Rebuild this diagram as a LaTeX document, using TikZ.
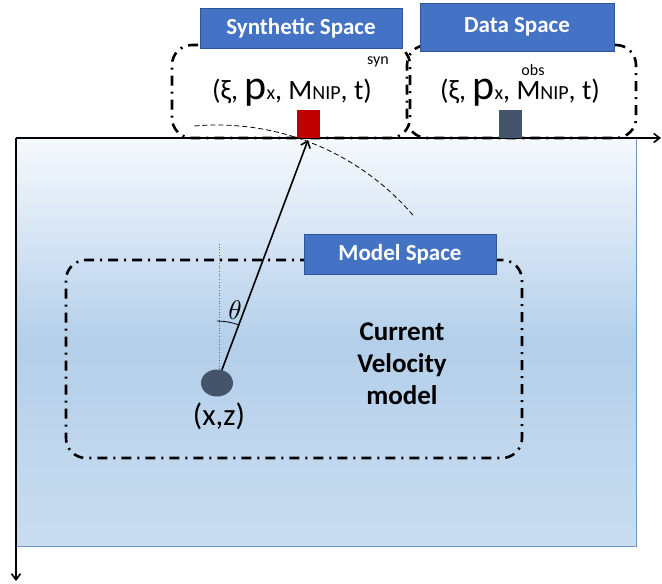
\documentclass[tikz,border=0pt]{standalone}
\usepackage{fontspec}
\setmainfont{Carlito}
\usetikzlibrary{arrows.meta,shapes.geometric}
\definecolor{boxblue}{HTML}{4472C4}
\definecolor{boxedge}{HTML}{2F5597}
\definecolor{slate}{HTML}{44546A}
\definecolor{redbar}{HTML}{C00000}
\definecolor{bgtop}{HTML}{F6F9FD}
\definecolor{bgmid}{HTML}{B4CFEA}
\definecolor{bgbot}{HTML}{CADDF0}
\definecolor{bgedge}{HTML}{6F93C6}
\begin{document}
\begin{tikzpicture}[x=1pt,y=-1pt,
  spacelabel/.style={fill=boxblue,draw=boxedge,line width=0.6pt,text=white,
    font=\fontsize{23}{26}\selectfont\bfseries,inner sep=0pt},
  region/.style={draw=black,line width=2.6pt,rounded corners=20pt,
    dash pattern=on 10pt off 6pt on 2pt off 6pt,inner sep=0pt},
  tuple/.style={font=\fontsize{28}{30}\selectfont,inner sep=0pt},
  bar/.style={minimum width=23pt,minimum height=28pt,inner sep=0pt},
  axis/.style={line width=1.6pt,-{Straight Barb[length=6pt,width=9pt]}},
]
\useasboundingbox (0,0) rectangle (662,584);
% background medium
\path[top color=bgtop,bottom color=bgbot,middle color=bgmid] (16,138) rectangle (636,546);
\draw[bgedge,line width=0.8pt] (16,138) rectangle (636,546);
% axes
\coordinate (O) at (16,138);
\coordinate (xend) at (661,138);
\coordinate (zend) at (16,581);
\draw[axis] (O) -- (xend);
\draw[axis] (O) -- (zend);
% regions
\node[region,minimum width=238pt,minimum height=93pt] (synreg) at (291,91.5) {};
\node[region,minimum width=229pt,minimum height=93pt] (datreg) at (521.5,91.5) {};
\node[region,minimum width=456pt,minimum height=198pt] (modreg) at (294,359) {};
% labels
\node[spacelabel,minimum width=202pt,minimum height=40pt] (synlab) at (301,28) {Synthetic Space};
\node[spacelabel,minimum width=194pt,minimum height=48pt] (datlab) at (517,27) {Data Space};
\node[spacelabel,minimum width=192pt,minimum height=40pt] (modlab) at (400,254) {Model Space};
% bars
\node[bar,fill=redbar] (synbar) at (308.5,124) {};
\node[bar,fill=slate] (datbar) at (510.5,124) {};
% tuples
\node[tuple] (syntuple) at (292,93) {(ξ, {\fontsize{42}{42}\selectfont p}{\fontsize{20}{20}\selectfont x}, M{\fontsize{20}{20}\selectfont NIP}, t)};
\node[tuple] (dattuple) at (520,93) {(ξ, {\fontsize{42}{42}\selectfont p}{\fontsize{20}{20}\selectfont x}, M{\fontsize{20}{20}\selectfont NIP}, t)};
\node[font=\fontsize{16}{18}\selectfont] (synsup) at (378,62) {syn};
\node[font=\fontsize{16}{18}\selectfont] (datsup) at (533,70) {obs};
% source and ray
\coordinate (rec) at (308,140);
\coordinate (vtop) at (219,244);
\coordinate (srcc) at (217,383);
\draw[boxblue,dotted,line width=0.7pt] (vtop) -- (219,380);
\draw[dashed,line width=0.8pt,dash pattern=on 5pt off 3pt] (srcc) ++(95:258pt) arc[start angle=95,end angle=40,radius=258pt];
\node[ellipse,fill=slate,minimum width=32pt,minimum height=27pt,inner sep=0pt] (src) at (srcc) {};
\draw[line width=1.6pt,-{Straight Barb[length=6pt,width=10pt]}] (src) -- (rec);
\draw[line width=0.8pt] (srcc) ++(90:62pt) arc[start angle=90,end angle=69.5,radius=62pt];
\node[scale=2.7,inner sep=0pt] (theta) at (235,310) {$\theta$};
\node[font=\fontsize{31}{34}\selectfont] (xz) at (219,416) {(x,z)};
\node[font=\fontsize{27}{32}\selectfont\bfseries,align=center] (cvm) at (402,364) {Current\\Velocity\\model};
\end{tikzpicture}
\end{document}
